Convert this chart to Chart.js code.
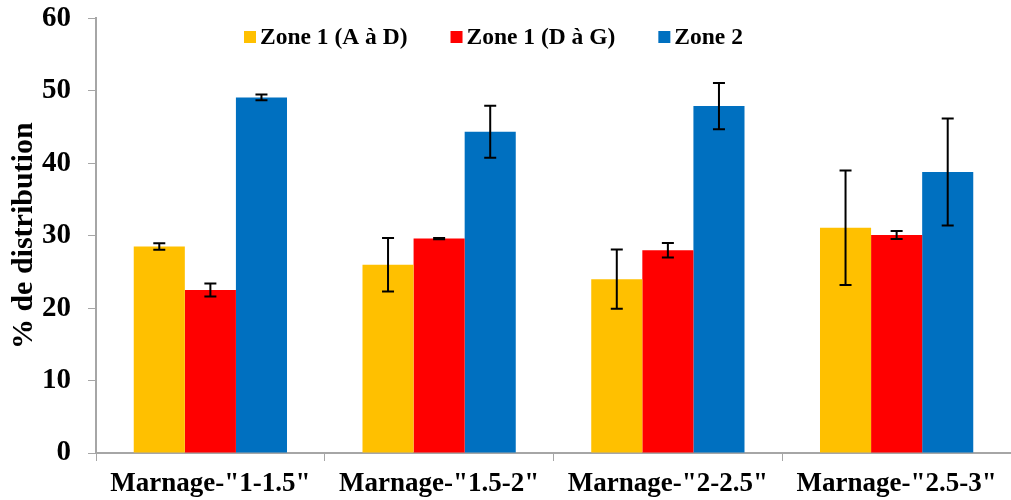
<!DOCTYPE html>
<html>
<head>
<meta charset="utf-8">
<script src="https://cdn.jsdelivr.net/npm/chart.js@4/dist/chart.umd.min.js"></script>
<style>
  html, body { margin: 0; padding: 0; background: #fff; }
  #wrap { width: 1011px; height: 500px; }
</style>
</head>
<body>
<div id="wrap"><canvas id="distChart"></canvas></div>
<script>
// categories
const categories = ['Marnage-"1-1.5"', 'Marnage-"1.5-2"', 'Marnage-"2-2.5"', 'Marnage-"2.5-3"'];

// series values (% de distribution)
const zone1AD = [28.5, 26.0, 24.0, 31.1];
const zone1DG = [22.5, 29.6, 28.0, 30.1];
const zone2 = [49.1, 44.35, 47.9, 38.8];

// error bars (+/-)
const errZone1AD = [0.45, 3.7, 4.1, 7.9];
const errZone1DG = [0.9, 0.1, 1.0, 0.55];
const errZone2 = [0.4, 3.6, 3.2, 7.4];

const yTicks = [0, 10, 20, 30, 40, 50, 60];

const serif = '"Liberation Serif", "Times New Roman", serif';

// draws error bars on top of each bar
const errorBars = {
  id: 'errorBars',
  afterDatasetsDraw(chart) {
    const ctx = chart.ctx;
    const y = chart.scales.y;
    ctx.save();
    ctx.strokeStyle = '#000';
    ctx.lineWidth = 2;
    chart.data.datasets.forEach((ds, i) => {
      const meta = chart.getDatasetMeta(i);
      meta.data.forEach((bar, j) => {
        const v = ds.data[j], e = ds.errors[j];
        const yTop = y.getPixelForValue(v + e);
        const yBot = y.getPixelForValue(v - e);
        const x = bar.x;
        ctx.beginPath();
        ctx.moveTo(x, yTop); ctx.lineTo(x, yBot);
        ctx.moveTo(x - 6, yTop); ctx.lineTo(x + 6, yTop);
        ctx.moveTo(x - 6, yBot); ctx.lineTo(x + 6, yBot);
        ctx.stroke();
      });
    });
    ctx.restore();
  }
};

// legend drawn inside the plot area, along the top
const topLegend = {
  id: 'topLegend',
  afterDraw(chart) {
    const ctx = chart.ctx;
    const area = chart.chartArea;
    const box = 12, gapText = 4, gapItem = 43;
    ctx.save();
    ctx.font = 'bold 23.5px ' + serif;
    ctx.textBaseline = 'middle';
    const items = chart.data.datasets.map(ds => ({
      label: ds.label, color: ds.backgroundColor, w: ctx.measureText(ds.label).width
    }));
    let x = area.left + 148;
    const yc = 37;
    items.forEach(it => {
      ctx.fillStyle = it.color;
      ctx.fillRect(x, yc - box / 2, box, box);
      x += box + gapText;
      ctx.fillStyle = '#000';
      ctx.fillText(it.label, x, yc + 1);
      x += it.w + gapItem;
    });
    ctx.restore();
  }
};

const ctx = document.getElementById('distChart').getContext('2d');
new Chart(ctx, {
  type: 'bar',
  data: {
    labels: categories,
    datasets: [
      { label: 'Zone 1 (A à D)', data: zone1AD, errors: errZone1AD, backgroundColor: '#FFC000' },
      { label: 'Zone 1 (D à G)', data: zone1DG, errors: errZone1DG, backgroundColor: '#FF0000' },
      { label: 'Zone 2', data: zone2, errors: errZone2, backgroundColor: '#0070C0' }
    ]
  },
  options: {
    responsive: true,
    maintainAspectRatio: false,
    animation: false,
    layout: { padding: { top: 0, right: 0, left: 9, bottom: 0 } },
    datasets: { bar: { categoryPercentage: 0.67, barPercentage: 1.0 } },
    plugins: {
      legend: { display: false },
      tooltip: { enabled: false }
    },
    scales: {
      x: {
        afterFit: (axis) => { axis.height = 47; },
        grid: { display: true, drawOnChartArea: false, color: '#A6A6A6', tickLength: 8, offset: true },
        border: { color: '#A6A6A6', width: 2 },
        ticks: { color: '#000', font: { family: serif, size: 27, weight: 'bold' }, padding: 7 }
      },
      y: {
        min: 0,
        max: 60,
        afterBuildTicks: (axis) => { axis.ticks = yTicks.map(v => ({ value: v })); },
        afterFit: (axis) => { axis.width = 87; },
        grid: { display: true, drawOnChartArea: false, color: '#A6A6A6', tickLength: 8 },
        border: { color: '#A6A6A6', width: 2 },
        ticks: { color: '#000', font: { family: serif, size: 29, weight: 'bold', lineHeight: 0.1 }, padding: 17 },
        title: { display: true, text: '% de distribution', color: '#000', font: { family: serif, size: 30, weight: 'bold', lineHeight: 1 }, padding: { top: 0, bottom: 2 } }
      }
    }
  },
  plugins: [errorBars, topLegend]
});
</script>
</body>
</html>
